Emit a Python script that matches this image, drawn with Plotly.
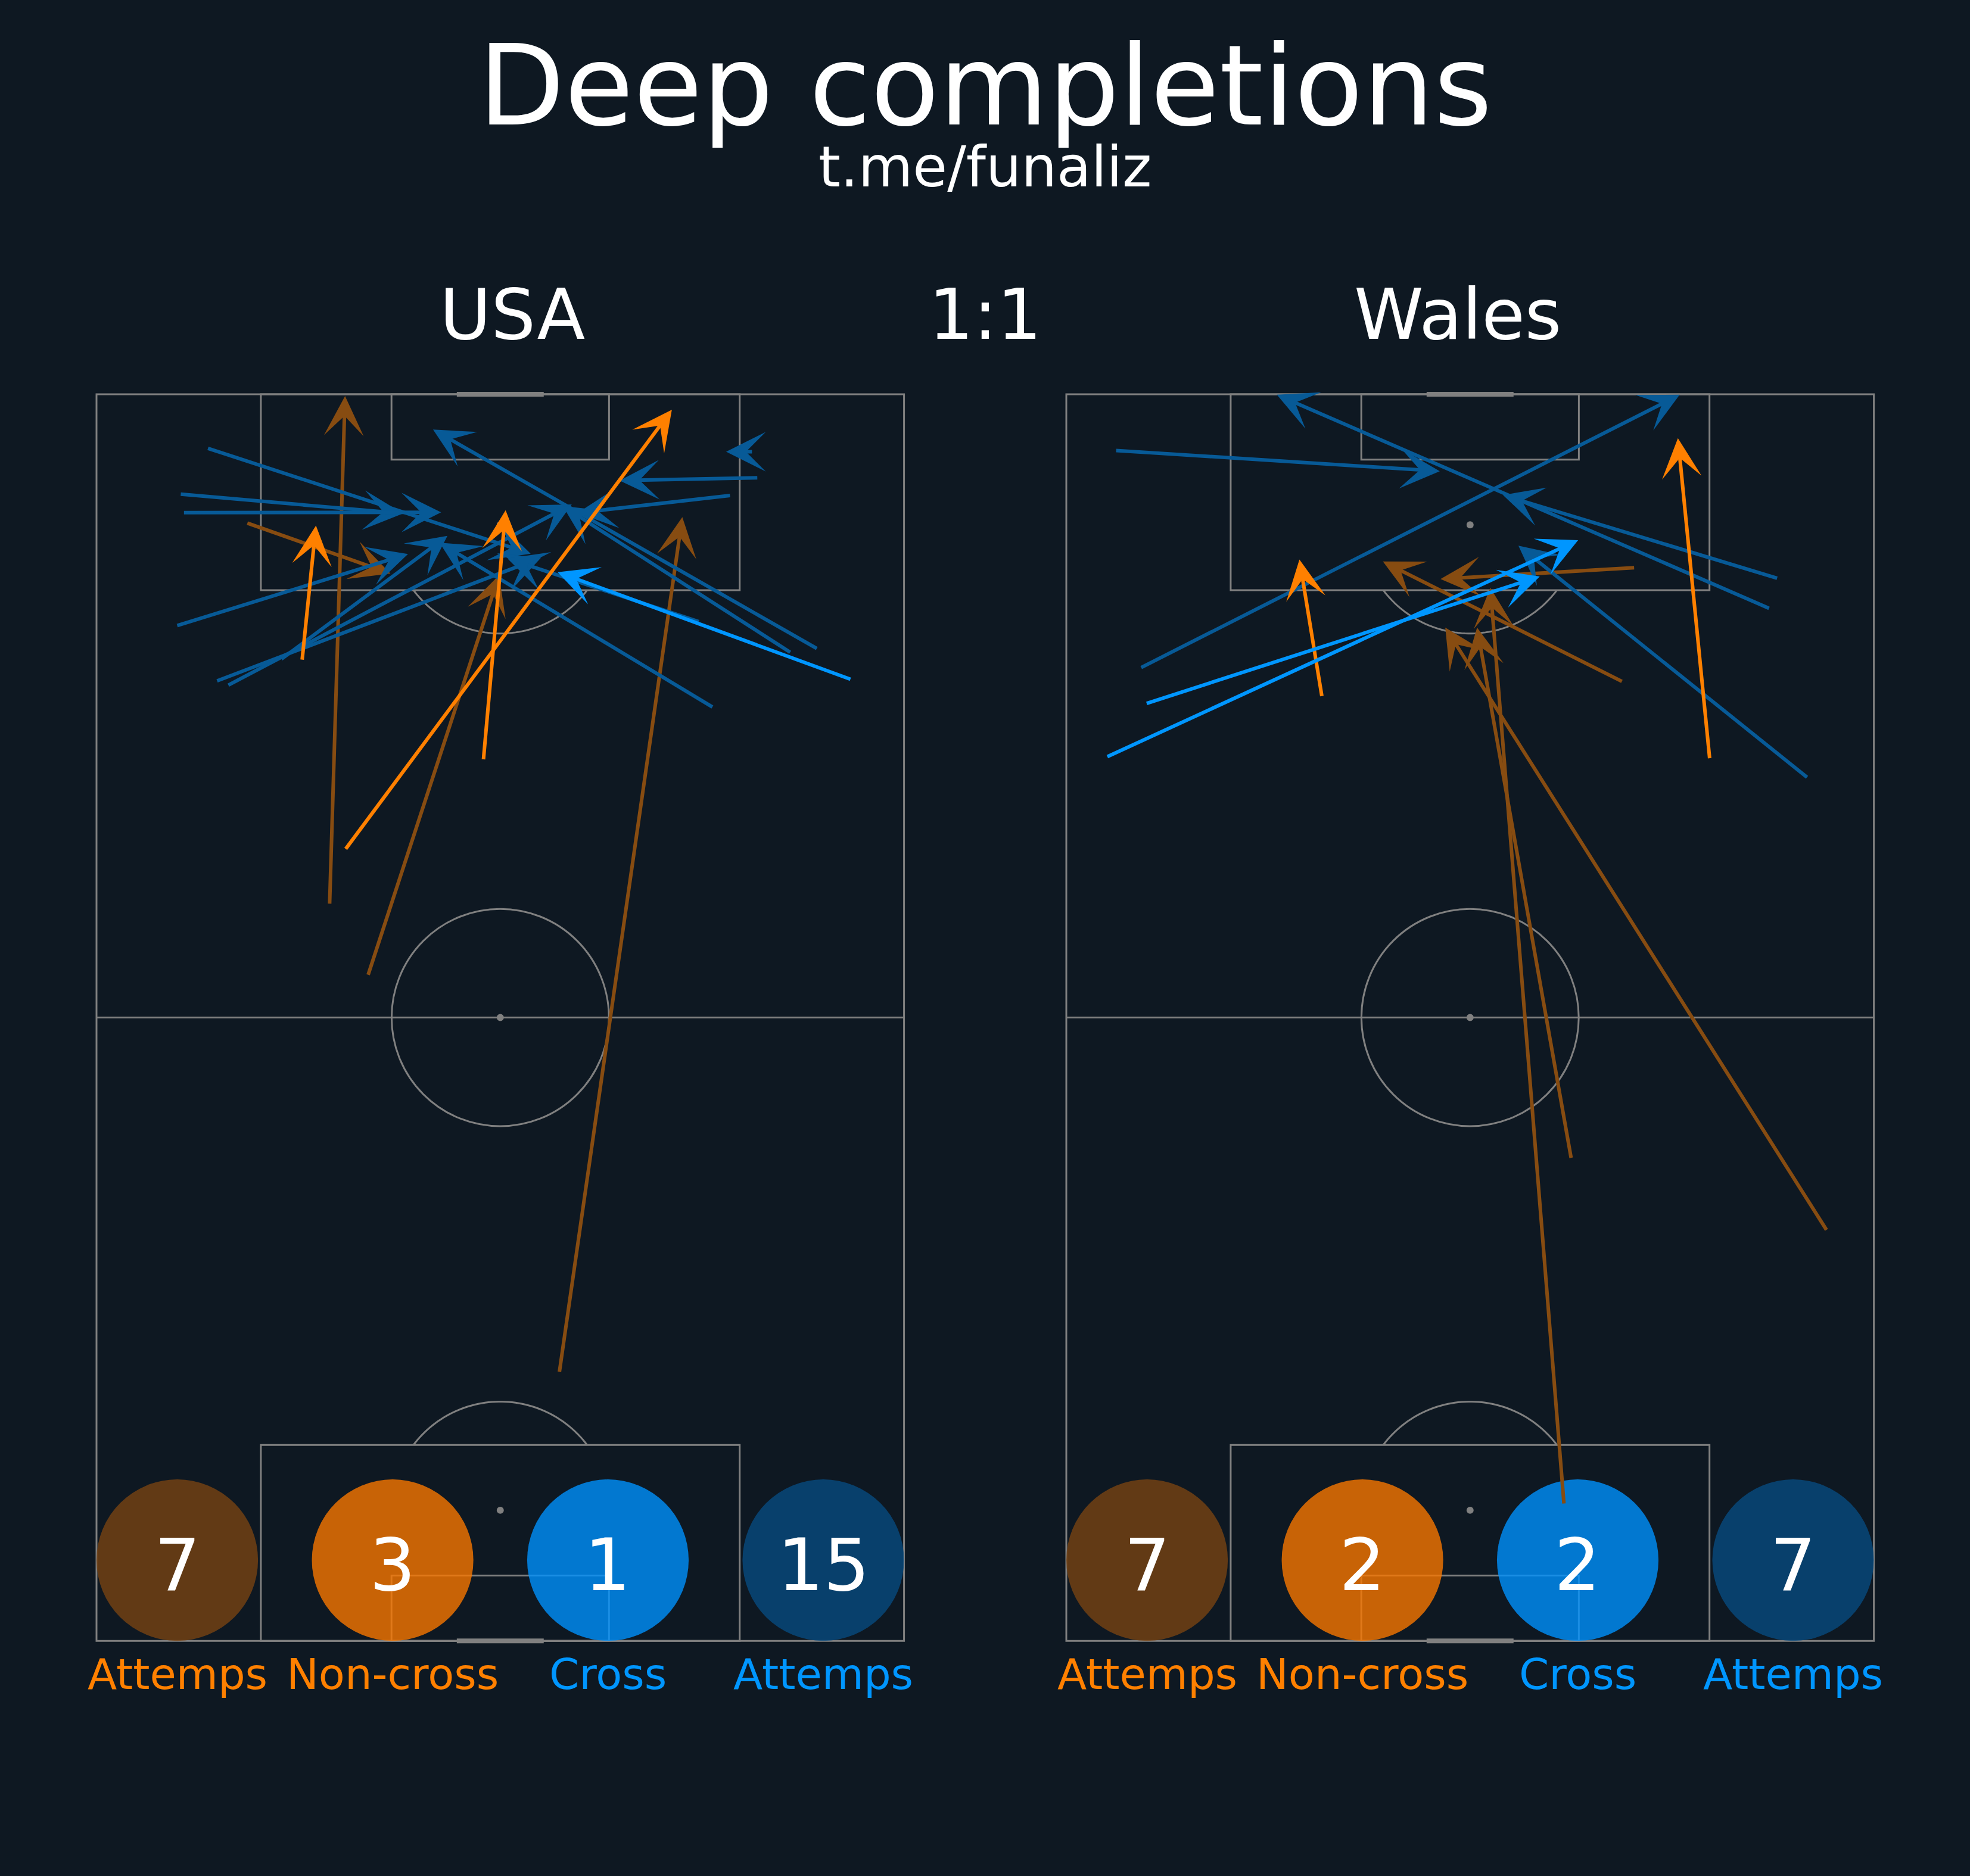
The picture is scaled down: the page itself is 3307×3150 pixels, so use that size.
import numpy as np
import plotly.graph_objects as go

# ---------------- data ----------------
TITLE = "Deep completions"
SUBTITLE = "t.me/funaliz"
TEAMS = ["USA", "Wales"]
SCORE = "1:1"
STAT_LABELS = ["Attemps", "Non-cross", "Cross", "Attemps"]

# passes: (x_start, y_start, x_end, y_end) in metres on a 68 x 105 pitch, attacking upwards
USA_NONCROSS_FAILED = [
    (19.63, 62.02, 20.93, 104.85),
    (12.63, 94.17, 24.75, 89.90),
    (22.85, 56.03, 33.90, 89.76),
    (38.97, 22.58, 49.33, 94.65),
]
USA_NONCROSS_DONE = [
    (17.31, 82.57, 18.48, 93.94),
    (32.58, 74.18, 34.45, 95.23),
    (20.93, 66.63, 48.45, 103.70),
]
USA_CROSS_FAILED = [
    (9.31, 100.47, 36.56, 91.57),
    (7.02, 96.59, 25.81, 94.95),
    (7.29, 95.03, 29.02, 95.05),
    (6.72, 85.49, 26.23, 91.54),
    (15.50, 82.64, 29.55, 93.08),
    (11.03, 80.46, 40.02, 95.72),
    (10.08, 80.83, 37.43, 91.23),
    (55.27, 100.16, 53.02, 100.16),
    (55.72, 97.97, 44.05, 97.73),
    (53.42, 96.48, 40.52, 95.01),
    (60.73, 83.54, 28.34, 102.03),
    (58.49, 83.22, 39.27, 95.58),
    (51.94, 78.61, 28.89, 92.50),
    (50.80, 85.82, 34.60, 91.17),
]
USA_CROSS_DONE = [
    (63.56, 80.97, 38.83, 90.02),
]

WAL_NONCROSS_FAILED = [
    (46.86, 80.78, 26.66, 90.91),
    (47.89, 90.39, 31.51, 89.44),
    (41.91, 11.50, 35.71, 88.70),
    (42.52, 40.61, 34.59, 85.35),
    (64.06, 34.54, 31.91, 85.35),
]
WAL_NONCROSS_DONE = [
    (21.53, 79.51, 19.63, 91.08),
    (54.18, 74.27, 51.50, 101.30),
]
WAL_CROSS_FAILED = [
    (6.23, 81.94, 51.65, 104.96),
    (4.12, 100.27, 31.45, 98.52),
    (59.25, 86.94, 17.73, 104.96),
    (59.93, 89.48, 36.77, 96.51),
    (62.45, 72.68, 38.07, 92.25),
]
WAL_CROSS_DONE = [
    (3.38, 74.44, 43.10, 92.71),
    (6.69, 78.94, 39.87, 89.65),
]

# ---------------- style ----------------
BG = "#0e1822"
LINE = "#808080"
FONT = "DejaVu Sans"
C_BROWN = "#874c11"
C_ORANGE = "#ff8000"
C_DARKBLUE = "#075a97"
C_BLUE = "#0096ff"
CIRCLE_FILLS = ["rgba(120,67,19,0.8)", "rgba(248,119,0,0.8)",
                "rgba(0,145,252,0.8)", "rgba(8,75,127,0.8)"]
LABEL_COLORS = [C_ORANGE, C_ORANGE, C_BLUE, C_BLUE]

W, H = 3307, 3150
S = 19.935                      # px per metre
PITCH_LEFT_PX = [162, 1790]
PITCH_TOP_PX = 662
PL, PW = 105.0, 68.0
XR = [-2, 70]
YR = [-2, 107]
ARROW_W = 6.0
ARROW_SIZE = 1.85


def xdom(left_px):
    return [(left_px + XR[0] * S) / W, (left_px + XR[1] * S) / W]


YDOM = [1 - (PITCH_TOP_PX + (PL - YR[0]) * S) / H,
        1 - (PITCH_TOP_PX - (YR[1] - PL) * S) / H]


def arc_path(cx, cy, r, a0, a1, n=60):
    t = np.radians(np.linspace(a0, a1, n))
    xs = cx + r * np.cos(t)
    ys = cy + r * np.sin(t)
    return "M " + " L ".join(f"{x:.3f},{y:.3f}" for x, y in zip(xs, ys))


def pitch_shapes(xr, yr):
    ln = dict(color=LINE, width=3)
    sh = []
    sh.append(dict(type="rect", x0=0, y0=0, x1=PW, y1=PL, line=ln))
    sh.append(dict(type="line", x0=0, y0=PL / 2, x1=PW, y1=PL / 2, line=ln))
    sh.append(dict(type="circle", x0=34 - 9.15, x1=34 + 9.15,
                   y0=PL / 2 - 9.15, y1=PL / 2 + 9.15, line=ln))
    boxw = 40.32
    for top in (True, False):
        if top:
            sh.append(dict(type="rect", x0=34 - boxw / 2, x1=34 + boxw / 2, y0=PL - 16.5, y1=PL, line=ln))
            sh.append(dict(type="rect", x0=34 - 9.16, x1=34 + 9.16, y0=PL - 5.5, y1=PL, line=ln))
            spot = PL - 11
        else:
            sh.append(dict(type="rect", x0=34 - boxw / 2, x1=34 + boxw / 2, y0=0, y1=16.5, line=ln))
            sh.append(dict(type="rect", x0=34 - 9.16, x1=34 + 9.16, y0=0, y1=5.5, line=ln))
            spot = 11
        a = np.degrees(np.arcsin(5.5 / 9.15))
        if top:
            p = arc_path(34, spot, 9.15, 180 + a, 360 - a)
        else:
            p = arc_path(34, spot, 9.15, a, 180 - a)
        sh.append(dict(type="path", path=p, line=ln))
        sh.append(dict(type="circle", x0=34 - 0.3, x1=34 + 0.3, y0=spot - 0.3, y1=spot + 0.3,
                       fillcolor=LINE, line=dict(width=0)))
        gy = PL if top else 0
        sh.append(dict(type="line", x0=34 - 3.66, x1=34 + 3.66, y0=gy, y1=gy,
                       line=dict(color=LINE, width=8)))
    sh.append(dict(type="circle", x0=34 - 0.3, x1=34 + 0.3, y0=PL / 2 - 0.3, y1=PL / 2 + 0.3,
                   fillcolor=LINE, line=dict(width=0)))
    for d in sh:
        d["xref"] = xr
        d["yref"] = yr
        d["layer"] = "above"
    return sh


def arrows(passes, color, xr, yr):
    out = []
    for x0, y0, x1, y1 in passes:
        out.append(dict(x=x1, y=y1, ax=x0, ay=y0, xref=xr, yref=yr, axref=xr, ayref=yr,
                        text="", showarrow=True, arrowhead=3, arrowsize=ARROW_SIZE,
                        arrowwidth=ARROW_W, arrowcolor=color, standoff=0, startstandoff=0))
    return out


fig = go.Figure()
shapes = []
annotations = []

teams_data = [
    (USA_NONCROSS_FAILED, USA_NONCROSS_DONE, USA_CROSS_FAILED, USA_CROSS_DONE),
    (WAL_NONCROSS_FAILED, WAL_NONCROSS_DONE, WAL_CROSS_FAILED, WAL_CROSS_DONE),
]

circ_r = 0.1 * PW
circ_x = [PW * f for f in (0.1, 0.3667, 0.6333, 0.9)]
circ_y = circ_r

for i, (ncf, ncd, cf, cd) in enumerate(teams_data):
    sfx = "" if i == 0 else "2"
    xr, yr = "x" + sfx, "y" + sfx
    shapes += pitch_shapes(xr, yr)
    counts = [len(ncf) + len(ncd), len(ncd), len(cd), len(cf) + len(cd)]
    for k in range(4):
        shapes.append(dict(type="circle", xref=xr, yref=yr, layer="above",
                           x0=circ_x[k] - circ_r, x1=circ_x[k] + circ_r,
                           y0=circ_y - circ_r, y1=circ_y + circ_r,
                           fillcolor=CIRCLE_FILLS[k], line=dict(width=0)))
    annotations += arrows(ncf, C_BROWN, xr, yr)
    annotations += arrows(cf, C_DARKBLUE, xr, yr)
    annotations += arrows(ncd, C_ORANGE, xr, yr)
    annotations += arrows(cd, C_BLUE, xr, yr)
    for k in range(4):
        annotations.append(dict(x=circ_x[k], y=circ_y - 0.43, xref=xr, yref=yr,
                                text=str(counts[k]), showarrow=False,
                                font=dict(family=FONT, size=122, color="white"),
                                xanchor="center", yanchor="middle"))
        annotations.append(dict(x=circ_x[k], y=1 - 2811 / H, xref=xr, yref="paper",
                                text=STAT_LABELS[k], showarrow=False,
                                font=dict(family=FONT, size=72, color=LABEL_COLORS[k]),
                                xanchor="center", yanchor="middle"))

annotations.append(dict(x=0.5, y=1 - 143 / H, xref="paper", yref="paper", text=TITLE,
                        showarrow=False, font=dict(family=FONT, size=188, color="white"),
                        xanchor="center", yanchor="middle"))
annotations.append(dict(x=0.5, y=1 - 280 / H, xref="paper", yref="paper", text=SUBTITLE,
                        showarrow=False, font=dict(family=FONT, size=94, color="white"),
                        xanchor="center", yanchor="middle"))
for xp, txt in zip((0.26, 0.5, 0.74), (TEAMS[0], SCORE, TEAMS[1])):
    annotations.append(dict(x=xp, y=1 - 528 / H, xref="paper", yref="paper", text=txt,
                            showarrow=False, font=dict(family=FONT, size=118, color="white"),
                            xanchor="center", yanchor="middle"))

axis_common = dict(visible=False, showgrid=False, zeroline=False, fixedrange=True)
fig.update_layout(
    width=W, height=H,
    paper_bgcolor=BG, plot_bgcolor=BG,
    margin=dict(l=0, r=0, t=0, b=0),
    showlegend=False,
    xaxis=dict(domain=xdom(PITCH_LEFT_PX[0]), range=XR, anchor="y", **axis_common),
    yaxis=dict(domain=YDOM, range=YR, anchor="x", **axis_common),
    xaxis2=dict(domain=xdom(PITCH_LEFT_PX[1]), range=XR, anchor="y2", **axis_common),
    yaxis2=dict(domain=YDOM, range=YR, anchor="x2", **axis_common),
    shapes=shapes,
    annotations=annotations,
)

fig.write_html(
    "out.html",
    config={"displayModeBar": False},
    post_script=("document.body.style.margin='0';"
                 "document.body.style.background='" + BG + "';"
                 "document.body.style.overflow='hidden';"),
)
